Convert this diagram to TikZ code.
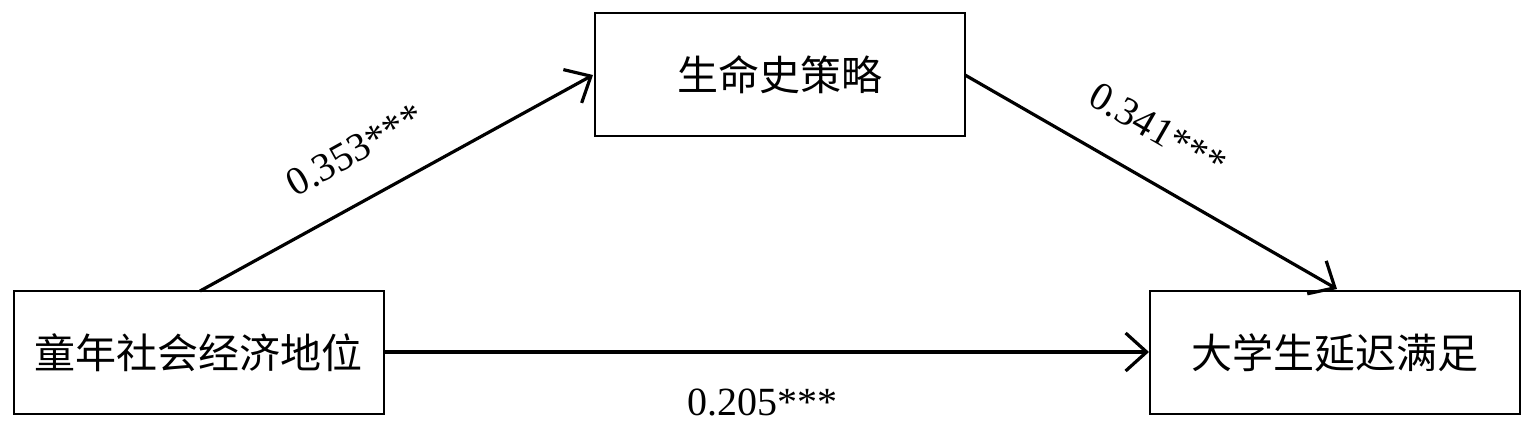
\documentclass[tikz,border=0pt]{standalone}
\usepackage{fontspec}
\setmainfont{Liberation Serif}
\newfontfamily\cjk{Noto Sans CJK SC}
\usetikzlibrary{arrows.meta}
\begin{document}
\begin{tikzpicture}[x=1pt,y=-1pt,
  box/.style={draw,line width=2pt,minimum width=370pt,minimum height=123pt,inner sep=0pt,font=\cjk\fontsize{41}{43}\selectfont},
  conn/.style={line width=3.2pt,-{Straight Barb[length=21pt,width=38pt,line width=3.2pt]}},
  lab/.style={font=\fontsize{40}{44}\selectfont,inner sep=0pt}]
\useasboundingbox (0,0) rectangle (1535,433);
\node[box] (m) at (780,75) {生命史策略};
\node[box] (x) at (198.5,352.5) {童年社会经济地位};
\node[box] (y) at (1335,352.5) {大学生延迟满足};
\coordinate (xs) at (200,291);
\coordinate (me) at (593,75);
\coordinate (ms) at (965,75);
\coordinate (ye) at (1337,289);
\coordinate (xe) at (383.5,352);
\coordinate (yw) at (1149,352);
\draw[conn] (xs) -- (me);
\draw[conn] (ms) -- (ye);
\draw[conn] (xe) -- (yw);
\node[lab,rotate=29] (l1) at (355,150) {0.353***};
\node[lab,rotate=-30] (l2) at (1158,130) {0.341***};
\node[lab] (l3) at (762,402) {0.205***};
\end{tikzpicture}
\end{document}
